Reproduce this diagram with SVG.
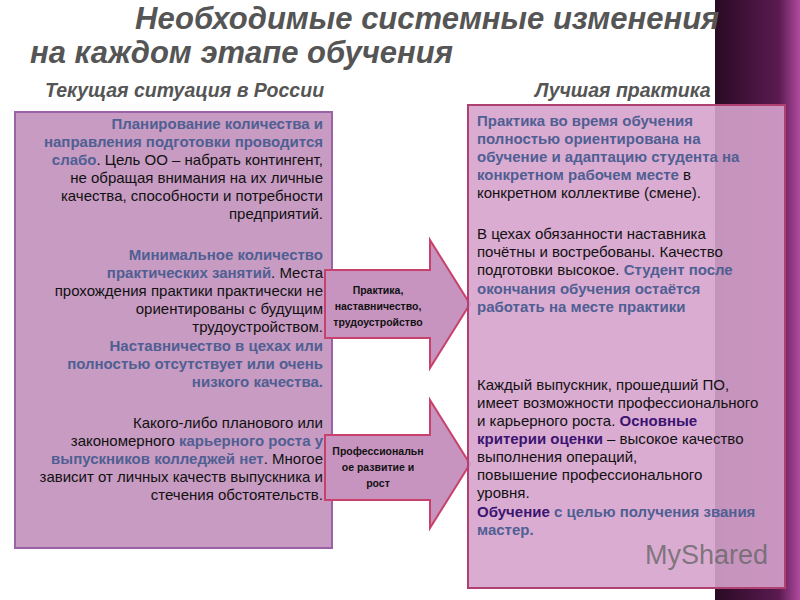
<svg xmlns="http://www.w3.org/2000/svg" width="800" height="600" viewBox="0 0 800 600">
<defs>
<linearGradient id="strip" x1="0" y1="0" x2="1" y2="0">
<stop offset="0" stop-color="#2a0a24"/><stop offset="0.75" stop-color="#5a1a50"/><stop offset="1" stop-color="#b04aa0"/>
</linearGradient>
<style>
text{font-family:"Liberation Sans",Arial,sans-serif}
.t{font-size:31px;font-weight:bold;font-style:italic;fill:#555}
.h{font-size:19.5px;font-weight:bold;font-style:italic;fill:#555}
.L{font-size:15px;fill:#111;text-anchor:end}
.R{font-size:15px;fill:#111}
.b{fill:#4f5f92;font-weight:bold}
.p{fill:#3a1470;font-weight:bold}
.a{font-size:10.5px;font-weight:bold;fill:#111;text-anchor:middle}
.arrow{fill:#c694bf;stroke:#c8406c;stroke-width:2}
</style>
</defs>
<rect width="800" height="600" fill="#fff"/>
<rect x="715" y="0" width="85" height="600" fill="url(#strip)"/>
<text class="t" x="135" y="29">Необходимые системные изменения</text>
<text class="t" x="30" y="63">на каждом этапе обучения</text>
<text class="h" x="45" y="97">Текущая ситуация в России</text>
<text class="h" x="535" y="97">Лучшая практика</text>
<g id="left">
<rect x="15" y="112" width="317" height="436" fill="#c79bc2" stroke="#9b62a8" stroke-width="2"/>
<text class="L" x="323" y="129"><tspan class="b">Планирование  количества и</tspan></text>
<text class="L" x="323" y="147"><tspan class="b">направления подготовки проводится</tspan></text>
<text class="L" x="323" y="165"><tspan class="b">слабо</tspan>. Цель ОО – набрать контингент,</text>
<text class="L" x="323" y="183">не обращая внимания на их личные</text>
<text class="L" x="323" y="201">качества, способности и потребности</text>
<text class="L" x="323" y="219">предприятий.</text>
<text class="L" x="323" y="260"><tspan class="b">Минимальное количество</tspan></text>
<text class="L" x="323" y="278"><tspan class="b">практических занятий</tspan>. Места</text>
<text class="L" x="323" y="296">прохождения практики  практически не</text>
<text class="L" x="323" y="314">ориентированы с будущим</text>
<text class="L" x="323" y="332">трудоустройством.</text>
<text class="L" x="323" y="351"><tspan class="b">Наставничество в цехах или</tspan></text>
<text class="L" x="323" y="369"><tspan class="b">полностью отсутствует или очень</tspan></text>
<text class="L" x="323" y="387"><tspan class="b">низкого качества.</tspan></text>
<text class="L" x="323" y="428">Какого-либо планового или</text>
<text class="L" x="323" y="446">закономерного <tspan class="b">карьерного роста у</tspan></text>
<text class="L" x="323" y="464"><tspan class="b">выпускников колледжей нет</tspan>. Многое</text>
<text class="L" x="323" y="482">зависит от личных качеств выпускника и</text>
<text class="L" x="323" y="500">стечения обстоятельств.</text>
</g>
<g id="connectors">
<g id="arrow1">
<path class="arrow" d="M325,270 H430 V240 L470,304 L430,368 V338 H325 Z"/>
<text class="a" x="378" y="294">Практика,</text>
<text class="a" x="378" y="310">наставничество,</text>
<text class="a" x="378" y="326">трудоустройство</text>
</g>
<g id="arrow2">
<path class="arrow" d="M325,435 H430 V400 L470,464 L430,528 V500 H325 Z"/>
<text class="a" x="378" y="455">Профессиональн</text>
<text class="a" x="378" y="471">ое развитие и</text>
<text class="a" x="378" y="487">рост</text>
</g>
</g>
<g id="right">
<rect x="468" y="105" width="317" height="483" fill="#d6a3cd" fill-opacity="0.9" stroke="#b0406f" stroke-width="2"/>
<text class="R" x="477" y="126"><tspan class="b">Практика во время обучения</tspan></text>
<text class="R" x="477" y="144"><tspan class="b">полностью ориентирована на</tspan></text>
<text class="R" x="477" y="162"><tspan class="b">обучение и адаптацию студента на</tspan></text>
<text class="R" x="477" y="180"><tspan class="b">конкретном рабочем месте</tspan> в</text>
<text class="R" x="477" y="198">конкретном коллективе (смене).</text>
<text class="R" x="477" y="239"> В цехах обязанности наставника</text>
<text class="R" x="477" y="257">почётны и востребованы. Качество</text>
<text class="R" x="477" y="275">подготовки высокое. <tspan class="b">Студент после</tspan></text>
<text class="R" x="477" y="294"><tspan class="b">окончания обучения остаётся</tspan></text>
<text class="R" x="477" y="312"><tspan class="b">работать на месте практики</tspan></text>
<text class="R" x="477" y="390">Каждый выпускник, прошедший ПО,</text>
<text class="R" x="477" y="408">имеет возможности профессионального</text>
<text class="R" x="477" y="426">и карьерного роста. <tspan class="p">Основные</tspan></text>
<text class="R" x="477" y="444"><tspan class="p">критерии оценки</tspan> – высокое качество</text>
<text class="R" x="477" y="462">выполнения операций,</text>
<text class="R" x="477" y="480">повышение профессионального</text>
<text class="R" x="477" y="498"> уровня.</text>
<text class="R" x="477" y="517"><tspan class="p">Обучение</tspan> <tspan class="b">с целью получения звания</tspan></text>
<text class="R" x="477" y="535"><tspan class="b">мастер.</tspan></text>
<text x="645" y="564" font-size="27px" fill="#666" fill-opacity="0.8">MyShared</text>
</g>
</svg>
